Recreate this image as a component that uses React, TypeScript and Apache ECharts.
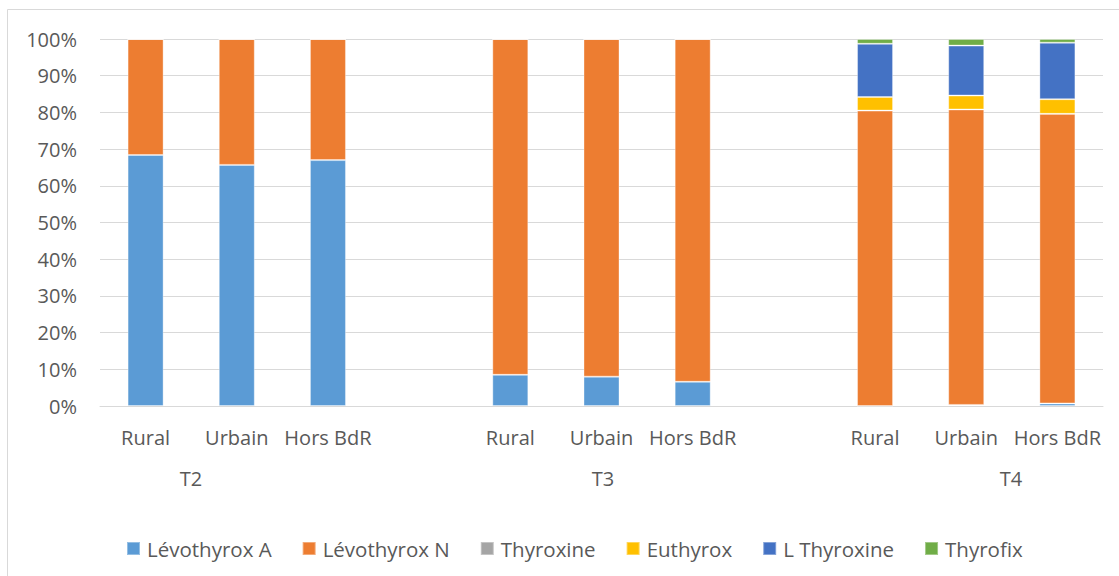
import React, { useEffect, useRef } from "react";
import * as echarts from "echarts";

const categories = ["Rural", "Urbain", "Hors BdR", "", "Rural", "Urbain", "Hors BdR", "", "Rural", "Urbain", "Hors BdR"];
const groupLabels = ["T2", "T3", "T4"];
const yTicks = [0, 10, 20, 30, 40, 50, 60, 70, 80, 90, 100];

const levothyroxA = [68.4, 65.7, 67.0, null, 8.5, 8.0, 6.6, null, 0.0, 0.3, 0.7];
const levothyroxN = [31.6, 34.3, 33.0, null, 91.5, 92.0, 93.4, null, 80.5, 80.5, 78.9];
const thyroxine = [0, 0, 0, null, 0, 0, 0, null, 0, 0, 0];
const euthyrox = [0, 0, 0, null, 0, 0, 0, null, 3.7, 3.8, 4.0];
const lThyroxine = [0, 0, 0, null, 0, 0, 0, null, 14.5, 13.6, 15.4];
const thyrofix = [0, 0, 0, null, 0, 0, 0, null, 1.3, 1.8, 1.0];

const seriesDefs = [
  { name: "Lévothyrox A", data: levothyroxA, color: "#5B9BD5" },
  { name: "Lévothyrox N", data: levothyroxN, color: "#ED7D31" },
  { name: "Thyroxine", data: thyroxine, color: "#A5A5A5" },
  { name: "Euthyrox", data: euthyrox, color: "#FFC000" },
  { name: "L Thyroxine", data: lThyroxine, color: "#4472C4" },
  { name: "Thyrofix", data: thyrofix, color: "#70AD47" },
];

const FONT = "'Open Sans', 'Liberation Sans', sans-serif";
const TEXT = "#595959";

export default function App() {
  const ref = useRef<HTMLDivElement>(null);
  useEffect(() => {
    if (!ref.current) return;
    const chart = echarts.init(ref.current, null, { renderer: "svg" });
    chart.setOption({
      animation: false,
      backgroundColor: "#fff",
      textStyle: { fontFamily: FONT },
      grid: { left: 100, right: 16, top: 39, bottom: 170, containLabel: false },
      xAxis: {
        type: "category",
        data: categories,
        axisLine: { lineStyle: { color: "#D9D9D9", width: 1 } },
        axisTick: { show: false },
        axisLabel: { color: TEXT, fontSize: 20, fontFamily: FONT, margin: 21, interval: 0 },
      },
      yAxis: {
        type: "value",
        min: 0,
        max: 100,
        interval: 10,
        axisLine: { show: false },
        axisTick: { show: false },
        splitLine: { lineStyle: { color: "#D9D9D9", width: 1 } },
        axisLabel: {
          color: TEXT,
          fontSize: 20,
          fontFamily: FONT,
          margin: 23,
          formatter: (v: number) => (yTicks.includes(v) ? v + "%" : ""),
        },
      },
      legend: {
        left: 126,
        top: 538,
        padding: 0,
        itemWidth: 13,
        itemHeight: 13,
        itemGap: 30,
        icon: "rect",
        textStyle: { color: TEXT, fontSize: 20.5, fontFamily: FONT, padding: [0, 0, 0, 2] },
        data: seriesDefs.map((s) => s.name),
      },
      series: seriesDefs.map((s) => ({
        name: s.name,
        type: "bar",
        stack: "total",
        barWidth: 36,
        data: s.data,
        itemStyle: { color: s.color, borderColor: "rgba(255,255,255,0.35)", borderWidth: 1 },
      })),
      graphic: [
        {
          type: "rect",
          shape: { x: 7.5, y: 9.5, width: 1200, height: 700 },
          style: { fill: "none", stroke: "#D9D9D9", lineWidth: 1 },
          silent: true,
          z: -1,
        },
        ...[
          { t: groupLabels[0], x: 191 },
          { t: groupLabels[1], x: 603 },
          { t: groupLabels[2], x: 1011 },
        ].map((g) => ({
          type: "text",
          x: g.x,
          y: 478,
          style: {
            text: g.t,
            fill: TEXT,
            font: `20px ${FONT}`,
            textAlign: "center",
            textVerticalAlign: "middle",
          },
        })),
      ],
    });
    return () => chart.dispose();
  }, []);
  return <div ref={ref} style={{ width: 1119, height: 576, position: "absolute", left: 0, top: 0 }} />;
}
